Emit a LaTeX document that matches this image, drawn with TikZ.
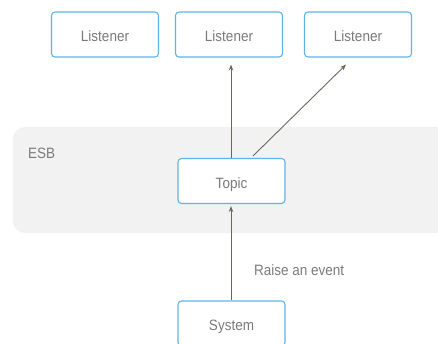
\documentclass[tikz,border=0pt]{standalone}
\usepackage{fontspec}
\setmainfont{Liberation Sans}[FakeStretch=0.9]
\usetikzlibrary{arrows.meta,calc}
\definecolor{boxblue}{HTML}{5DB5E6}
\definecolor{esbgray}{HTML}{F2F2F2}
\definecolor{arrowc}{HTML}{6E6557}
\definecolor{textc}{HTML}{7A7A7A}
\tikzset{
  boxnode/.style={draw=boxblue, line width=1.1pt, rounded corners=3.5pt, fill=white,
    minimum width=107pt, minimum height=45pt, inner sep=0pt, text height=16pt, text depth=2pt,
    text=textc, font=\fontsize{15}{17}\selectfont},
  arr/.style={draw=arrowc, line width=0.9pt, -{Stealth[length=6pt,width=4.5pt]}},
  lbl/.style={text=textc, font=\fontsize{15}{17}\selectfont, inner sep=0pt}
}
\begin{document}
\begin{tikzpicture}[x=1pt,y=-1pt]
\useasboundingbox (0,0) rectangle (438,343);
\clip (0,0) rectangle (438,343);
\fill[esbgray, rounded corners=12pt] (13,127) rectangle (460,233);
\node[lbl, anchor=base west] (esb) at (28,158) {ESB};
\node[boxnode] (l1) at (105,34.5) {Listener};
\node[boxnode] (l2) at (229,34.5) {Listener};
\node[boxnode] (l3) at (358,34.5) {Listener};
\node[boxnode] (topic) at (231.5,181) {Topic};
\node[boxnode] (sys) at (231.5,323.5) {System};
\node[lbl, anchor=base west] (raise) at (254,275) {Raise an event};
\coordinate (t1) at ($(topic.north)+(-0.5,0)$);
\coordinate (t2) at ($(topic.north)+(21.5,-2)$);
\coordinate (e1) at ($(l2.south)+(2,7)$);
\coordinate (e2) at ($(l3.south)+(-12,7)$);
\coordinate (s1) at ($(sys.north)+(-0.5,0)$);
\coordinate (s2) at ($(topic.south)+(-0.5,2)$);
\draw[arr] (t1) -- (e1);
\draw[arr] (t2) -- (e2);
\draw[arr] (s1) -- (s2);
\end{tikzpicture}
\end{document}
